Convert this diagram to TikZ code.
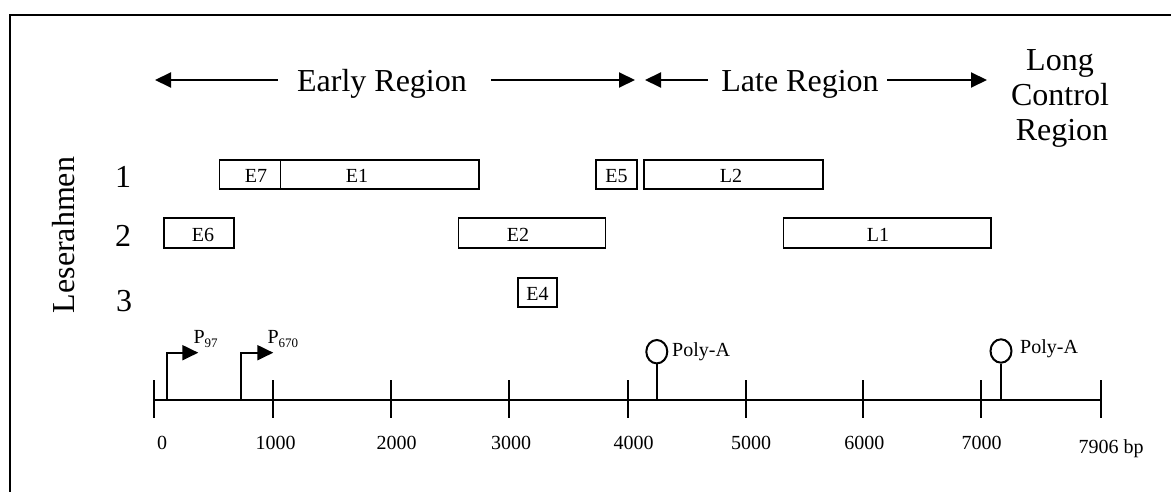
\documentclass[tikz,border=0pt]{standalone}
\usepackage{fontspec}
\setmainfont{Liberation Serif}
\usetikzlibrary{arrows.meta,shapes.geometric}
\begin{document}
\begin{tikzpicture}[x=1pt,y=-1pt,
  big/.style={font=\fontsize{32}{35}\selectfont, inner sep=0pt, anchor=base},
  small/.style={font=\fontsize{20}{22}\selectfont, inner sep=0pt, anchor=base},
  sub/.style={font=\fontsize{13}{14}\selectfont},
  genebox/.style={draw, line width=1.5pt},
  arr/.style={line width=2pt, -{Triangle[length=16pt,width=15pt]}},
  axisline/.style={line width=2pt},
  polya/.style={draw, ellipse, line width=2pt, minimum width=21pt, minimum height=23.4pt, inner sep=0pt},
  stem/.style={line width=1.6pt}]
\useasboundingbox (0,0) rectangle (1171,492);
% frame (top and left edges)
\draw[line width=2pt] (10,492) -- (10,15.3) -- (1171,15.3);

% region headings
\node[big] (early) at (382,91.7) {Early Region};
\node[big] (late) at (800,92) {Late Region};
\node[big] (lcr1) at (1060,70.7) {Long};
\node[big] (lcr2) at (1060,106) {Control};
\node[big] (lcr3) at (1062,140.5) {Region};
\coordinate (eLs) at (277.5,80); \coordinate (eLt) at (155,80);
\coordinate (eRs) at (491,80);   \coordinate (eRt) at (635,80);
\coordinate (lLs) at (708,80);   \coordinate (lLt) at (645,80);
\coordinate (lRs) at (887,80);   \coordinate (lRt) at (987,80);
\draw[arr] (eLs) -- (eLt);
\draw[arr] (eRs) -- (eRt);
\draw[arr] (lLs) -- (lLt);
\draw[arr] (lRs) -- (lRt);

% reading frames
\node[big, rotate=90] (lese) at (74.6,235) {Leserahmen};
\node[big] (r1) at (123,188) {1};
\node[big] (r2) at (123,246.7) {2};
\node[big] (r3) at (124,311.7) {3};

% genes
\draw[genebox] (219.5,160) rectangle (280.5,189);
\draw[genebox] (280.5,160) rectangle (479,189);
\draw[genebox] (596,160) rectangle (637,189);
\draw[genebox] (644,160) rectangle (823,189);
\draw[genebox] (163.8,218) rectangle (233.8,248);
\draw[genebox] (458.3,218) rectangle (605.7,248);
\draw[genebox] (783.5,218) rectangle (991,248);
\draw[genebox] (518,278) rectangle (557,307);
\node[small] (tE7) at (256,183) {E7};
\node[small] (tE1) at (357,183) {E1};
\node[small] (tE5) at (616.5,183) {E5};
\node[small] (tL2) at (731,183) {L2};
\node[small] (tE6) at (203,241) {E6};
\node[small] (tE2) at (518,241) {E2};
\node[small] (tL1) at (878,241) {L1};
\node[small] (tE4) at (537.5,300) {E4};

% axis
\coordinate (ax0) at (154,400); \coordinate (axE) at (1101,400);
\draw[axisline] (ax0) -- (axE);
\foreach \x/\lx/\lab in {154/162/0, 272.5/275.6/1000, 390.7/396.7/2000, 509/511/3000,
  628/633.7/4000, 746/751/5000, 863/864.4/6000, 981/981.5/7000} {
  \draw[axisline] (\x,380) -- (\x,418);
  \node[small] (t\lab) at (\lx,449) {\lab};
}
\draw[axisline] (1101,380) -- (1101,418);
\node[small] (tend) at (1111,453) {7906 bp};

% promoters
\coordinate (p1b) at (167.3,400); \coordinate (p1c) at (167.3,352.7); \coordinate (p1t) at (198.3,352.7);
\coordinate (p2b) at (241.3,400); \coordinate (p2c) at (241.3,352.7); \coordinate (p2t) at (273.3,352.7);
\draw[arr] (p1b) -- (p1c) -- (p1t);
\draw[arr] (p2b) -- (p2c) -- (p2t);
\node[small, anchor=base west] (P97) at (193.3,343.3) {P\raisebox{-4pt}{\fontsize{13}{14}\selectfont 97}};
\node[small, anchor=base west] (P670) at (267.3,343.3) {P\raisebox{-4pt}{\fontsize{13}{14}\selectfont 670}};

% poly-A sites
\node[polya] (pa1) at (656.8,351.7) {};
\node[polya] (pa2) at (1001,351) {};
\coordinate (pa1b) at (656.8,400); \coordinate (pa2b) at (1001,400);
\draw[stem] (pa1.south) -- (pa1b);
\draw[stem] (pa2.south) -- (pa2b);
\node[small, anchor=base west] (pA1) at (672,356) {Poly-A};
\node[small, anchor=base west] (pA2) at (1020,353) {Poly-A};
\end{tikzpicture}
\end{document}
